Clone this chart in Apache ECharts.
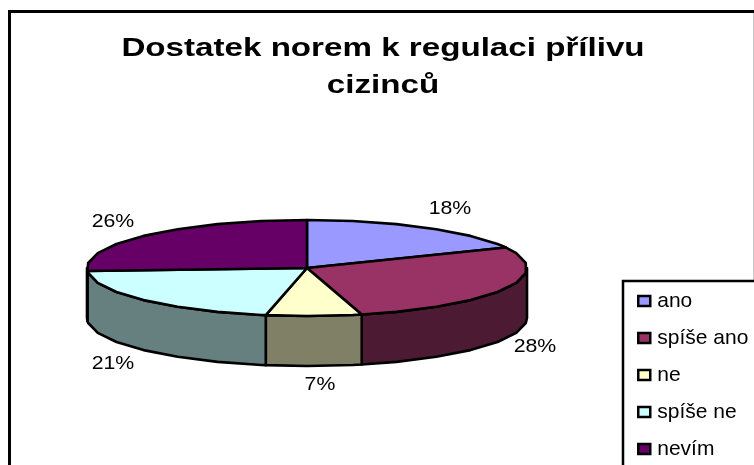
<!DOCTYPE html>
<html><head><meta charset="utf-8">
<style>html,body{margin:0;padding:0;background:#fff}#c{width:754px;height:465px}</style>
<script src="https://cdn.jsdelivr.net/npm/echarts@6/dist/echarts.min.js"></script>
</head><body><div id="c"></div>
<script>
const categories = ['ano', 'spíše ano', 'ne', 'spíše ne', 'nevím'];
const values = [18, 28, 7, 21, 26];
const topColors = ['#9999FF', '#993366', '#FFFFCC', '#CCFFFF', '#660066'];
const sideColors = ['#4D4D80', '#4D1A33', '#808066', '#668080', '#330033'];
const titleText = 'Dostatek norem k regulaci přílivu\ncizinců';

// layout of the tilted pie
const CX = 307, CY = 268, RX = 220, RY = 48, DEPTH = 50, STEP = 12;
const LABEL_TARGET = [[450, 209], [535, 347], [320, 385], [113, 364], [113, 222]];

const total = values.reduce((a, b) => a + b, 0);
const pt = (deg, dy) => {
  const r = deg * Math.PI / 180;
  return [CX + RX * Math.sin(r), CY - RY * Math.cos(r) + (dy || 0)];
};
// rim vertices sit on one shared angular grid, so the rim turns exactly at the far left and right
const arcPts = (a, b, dy) => {
  const lo = Math.min(a, b), hi = Math.max(a, b);
  const angles = [lo];
  for (let k = Math.floor(lo / STEP) + 1; k * STEP < hi - 0.01; k++) {
    if (k * STEP > lo + 0.01) angles.push(k * STEP);
  }
  angles.push(hi);
  if (a > b) angles.reverse();
  return angles.map(d => pt(d, dy));
};
const stroke = { stroke: '#000', lineWidth: 2.6, lineJoin: 'round' };

function renderSlice(idx) {
  return function (params, api) {
    const v = api.value(0);
    let before = 0;
    for (let i = 0; i < idx; i++) before += values[i];
    const a = before / total * 360, b = (before + v) / total * 360;
    const children = [];
    const s = Math.max(a, 90), e = Math.min(b, 270);
    if (s < e) {
      const upper = arcPts(s, e, 0), lower = arcPts(e, s, DEPTH);
      children.push({ type: 'polygon', z2: 1, shape: { points: upper.concat(lower) },
        style: Object.assign({ fill: sideColors[idx] }, stroke) });
    }
    children.push({ type: 'polygon', z2: 2, shape: { points: [[CX, CY]].concat(arcPts(a, b, 0)) },
      style: Object.assign({ fill: topColors[idx] }, stroke) });
    children.push({ type: 'text', z2: 3, x: LABEL_TARGET[idx][0], y: LABEL_TARGET[idx][1], scaleX: 1.12,
      style: { text: Math.round(v / total * 100) + '%', fill: '#000', align: 'center', verticalAlign: 'middle',
        font: '19px "Liberation Sans", Arial, sans-serif' } });
    return { type: 'group', children };
  };
}

const chart = echarts.init(document.getElementById('c'), null, { renderer: 'canvas' });
chart.setOption({
  animation: false,
  backgroundColor: '#fff',
  legend: {
    orient: 'vertical', left: 623, top: 281, height: 400, padding: [8, 60, 60, 14], itemGap: 13,
    itemWidth: 12, itemHeight: 10, icon: 'rect', backgroundColor: '#fff', borderColor: '#000', borderWidth: 2.5,
    itemStyle: { borderColor: '#000', borderWidth: 2.5 },
    textStyle: { fontFamily: '"Liberation Sans", Arial, sans-serif', fontSize: 21, color: '#000', lineHeight: 24, padding: [0, 0, 0, 2] },
    data: categories
  },
  graphic: [
    { type: 'rect', z: -1, shape: { x: 9.5, y: 11.5, width: 800, height: 500 }, style: { fill: '#fff', stroke: '#000', lineWidth: 3 } },
    { type: 'line', z: -1, shape: { x1: 753.5, y1: 13, x2: 753.5, y2: 465 }, style: { stroke: '#c8c8c8', lineWidth: 1 } },
    { type: 'text', z: 5, x: 383, y: 30, scaleX: 1.275,
      style: { text: titleText, align: 'center', verticalAlign: 'top', lineHeight: 37, fill: '#000',
        font: 'bold 26px "Liberation Sans", Arial, sans-serif' } }
  ],
  series: categories.map((name, idx) => ({
    type: 'custom', name, coordinateSystem: 'none', data: [[values[idx]]],
    itemStyle: { color: topColors[idx] }, renderItem: renderSlice(idx)
  }))
});
</script></body></html>
